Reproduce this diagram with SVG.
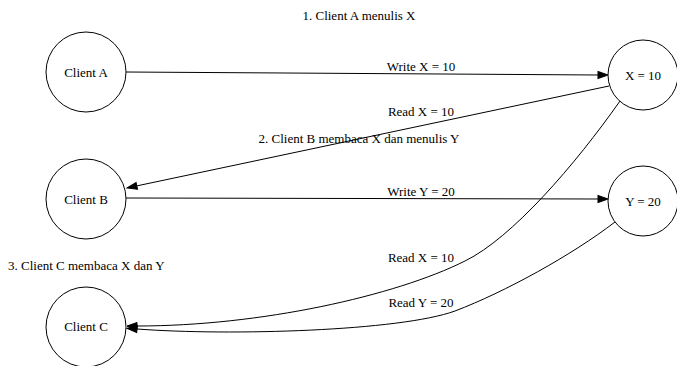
<svg xmlns="http://www.w3.org/2000/svg" width="677" height="366" viewBox="0 0 677 366">
  <style>
    text { font-family: "Liberation Serif", "Times New Roman", serif; font-size: 13px; fill: #000; }
    .node { fill: #fff; stroke: #000; stroke-width: 1; }
    .edge { fill: none; stroke: #000; stroke-width: 1; }
    .mid { text-anchor: middle; }
  </style>
  <defs>
    <marker id="arrow" markerUnits="userSpaceOnUse" markerWidth="10" markerHeight="7" refX="0" refY="3.5" orient="auto" overflow="visible">
      <path d="M0,0 L10,3.5 L0,7 Z" fill="#000" stroke="#000" stroke-width="1"/>
    </marker>
  </defs>

  <rect width="677" height="366" fill="#fff"/>

  <!-- step captions -->
  <g id="captions">
    <text class="mid" x="359" y="20">1. Client A menulis X</text>
    <text class="mid" x="359" y="143">2. Client B membaca X dan menulis Y</text>
    <text x="8" y="270">3. Client C membaca X dan Y</text>
  </g>

  <!-- connectors -->
  <g id="edges">
    <path class="edge" d="M126,72 L598,75" marker-end="url(#arrow)"/>
    <text class="mid" x="421" y="71">Write X = 10</text>

    <path class="edge" d="M609,86 L136.8,185.9" marker-end="url(#arrow)"/>
    <text class="mid" x="421" y="116">Read X = 10</text>

    <path class="edge" d="M126,198 L598,199" marker-end="url(#arrow)"/>
    <text class="mid" x="421" y="196">Write Y = 20</text>

    <path class="edge" d="M620,101 C575,165 512,238 465,261 C395,296 260,326 137,326" marker-end="url(#arrow)"/>
    <text class="mid" x="421" y="262">Read X = 10</text>

    <path class="edge" d="M615,222 C572,255 505,292 455,311 C400,331 230,336 137,329" marker-end="url(#arrow)"/>
    <text class="mid" x="421" y="307">Read Y = 20</text>
  </g>

  <!-- nodes -->
  <g id="clientA">
    <circle class="node" cx="86" cy="72" r="40"/>
    <text class="mid" x="86" y="76.5">Client A</text>
  </g>
  <g id="clientB">
    <circle class="node" cx="86" cy="199" r="40"/>
    <text class="mid" x="86" y="203.5">Client B</text>
  </g>
  <g id="clientC">
    <circle class="node" cx="86" cy="327" r="40"/>
    <text class="mid" x="86" y="331">Client C</text>
  </g>
  <g id="varX">
    <circle class="node" cx="643" cy="75" r="35"/>
    <text class="mid" x="643" y="79.5">X = 10</text>
  </g>
  <g id="varY">
    <circle class="node" cx="643" cy="201" r="35"/>
    <text class="mid" x="643" y="205.5">Y = 20</text>
  </g>
</svg>
